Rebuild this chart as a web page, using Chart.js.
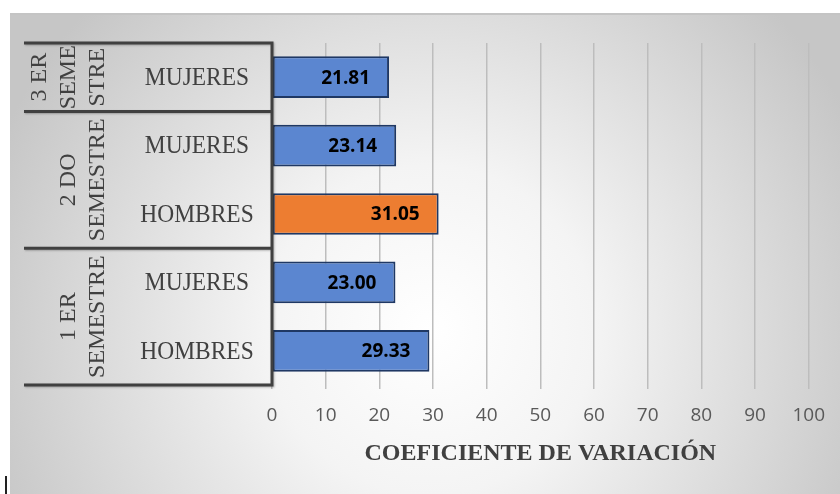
<!DOCTYPE html>
<html>
<head>
<meta charset="utf-8">
<script src="https://cdn.jsdelivr.net/npm/chart.js@4.4.0/dist/chart.umd.min.js"></script>
<style>
  html, body { margin: 0; padding: 0; background: #fff; }
  #wrap { position: relative; width: 840px; height: 494px; }
</style>
</head>
<body>
<div id="wrap"><canvas id="chart" width="840" height="494"></canvas></div>
<script>
// Data, top row first
const semesterLabels = [['3 ER', 'SEME', 'STRE'], ['2 DO', 'SEMESTRE'], ['1 ER', 'SEMESTRE']];
const semesterSizes = [1, 2, 2];
const groupLabels = ['MUJERES', 'MUJERES', 'HOMBRES', 'MUJERES', 'HOMBRES'];
const cvValues = [21.81, 23.14, 31.05, 23.00, 29.33];
const barColors = ['#5b86d0', '#5b86d0', '#ed7d31', '#5b86d0', '#5b86d0'];
const axisTitle = 'COEFICIENTE DE VARIACIÓN';

const SERIF = '"Liberation Serif", "Times New Roman", serif';
const SANS = '"Open Sans", sans-serif';

// Grey radial background like the Excel chart area
const backgroundPlugin = {
    id: 'background',
    beforeDraw(chart) {
        const ctx = chart.ctx;
        ctx.save();
        ctx.fillStyle = '#fff';
        ctx.fillRect(0, 0, chart.width, chart.height);
        const g = ctx.createRadialGradient(430, 330, 0, 430, 330, 470);
        g.addColorStop(0, '#ffffff');
        g.addColorStop(0.35, '#f4f4f4');
        g.addColorStop(1, '#c6c6c6');
        ctx.fillStyle = g;
        ctx.fillRect(10, 14, chart.width - 10, chart.height - 14);
        ctx.fillStyle = '#c4c4c4';
        ctx.fillRect(10, 13, chart.width - 10, 2);
        // stray cursor mark bottom-left
        ctx.fillStyle = '#222';
        ctx.fillRect(5, 476, 2, 18);
        ctx.restore();
    }
};

// Two-level category axis drawn by hand
const groupAxisPlugin = {
    id: 'groupAxis',
    afterDatasetsDraw(chart) {
        const ctx = chart.ctx;
        const area = chart.chartArea;
        const y = chart.scales.y;
        const rowH = (area.bottom - area.top) / groupLabels.length;
        ctx.save();
        ctx.fillStyle = '#404040';
        ctx.textBaseline = 'middle';

        // inner labels (slightly condensed serif)
        ctx.font = '25.5px ' + SERIF;
        ctx.textAlign = 'center';
        groupLabels.forEach((lab, i) => {
            ctx.save();
            ctx.translate(197, y.getPixelForValue(i) + 1);
            ctx.scale(0.92, 1);
            ctx.fillText(lab, 0, 0);
            ctx.restore();
        });

        // boundaries + outer labels
        ctx.strokeStyle = '#404040';
        ctx.lineWidth = 3;
        ctx.shadowColor = 'rgba(0,0,0,0.25)';
        ctx.shadowOffsetX = 1;
        ctx.shadowOffsetY = 1;
        ctx.shadowBlur = 2;
        let start = 0;
        const bounds = [area.top];
        semesterSizes.forEach(n => {
            start += n;
            bounds.push(area.top + rowH * start);
        });
        ctx.beginPath();
        bounds.forEach(b => {
            ctx.moveTo(24, b);
            ctx.lineTo(area.left, b);
        });
        ctx.moveTo(area.left, area.top - 1.5);
        ctx.lineTo(area.left, area.bottom + 1.5);
        ctx.stroke();
        ctx.shadowColor = 'transparent';

        ctx.font = '24px ' + SERIF;
        semesterLabels.forEach((lines, k) => {
            const cy = (bounds[k] + bounds[k + 1]) / 2;
            lines.forEach((txt, j) => {
                const cx = 97 - (lines.length - 1 - j) * 29;
                ctx.save();
                ctx.translate(cx, cy);
                ctx.rotate(-Math.PI / 2);
                ctx.fillText(txt, 0, 1);
                ctx.restore();
            });
        });
        ctx.restore();
    }
};

// Value labels at the inside end of each bar
const valueLabelPlugin = {
    id: 'valueLabels',
    afterDatasetsDraw(chart) {
        const ctx = chart.ctx;
        const meta = chart.getDatasetMeta(0);
        ctx.save();
        ctx.font = 'bold 19px ' + SANS;
        ctx.fillStyle = '#000';
        ctx.textAlign = 'right';
        ctx.textBaseline = 'middle';
        meta.data.forEach((bar, i) => {
            ctx.fillText(cvValues[i].toFixed(2), bar.x - 19, bar.y + 1);
        });
        ctx.restore();
    }
};

new Chart(document.getElementById('chart'), {
    type: 'bar',
    data: {
        labels: groupLabels,
        datasets: [{
            data: cvValues,
            backgroundColor: barColors,
            borderColor: '#1f3864',
            borderWidth: 2,
            borderSkipped: false,
            barPercentage: 0.61,
            categoryPercentage: 1
        }]
    },
    options: {
        indexAxis: 'y',
        responsive: false,
        animation: false,
        devicePixelRatio: 1,
        layout: { padding: { left: 272, top: 43, right: 31, bottom: 0 } },
        plugins: {
            legend: { display: false },
            tooltip: { enabled: false }
        },
        scales: {
            x: {
                min: 0,
                max: 100,
                ticks: {
                    stepSize: 10,
                    color: '#595959',
                    font: { family: SANS, size: 19 },
                    padding: 15
                },
                grid: { color: '#bdbdbd', lineWidth: 1.5, tickLength: 4 },
                border: { display: false },
                title: {
                    display: true,
                    text: axisTitle,
                    color: '#404040',
                    font: { family: SERIF, size: 24, weight: 'bold' },
                    padding: { top: 0, bottom: 26 }
                },
                afterFit(scale) { scale.height = 109; }
            },
            y: {
                display: false,
                offset: true,
                grid: { display: false }
            }
        }
    },
    plugins: [backgroundPlugin, groupAxisPlugin, valueLabelPlugin]
});
</script>
</body>
</html>
